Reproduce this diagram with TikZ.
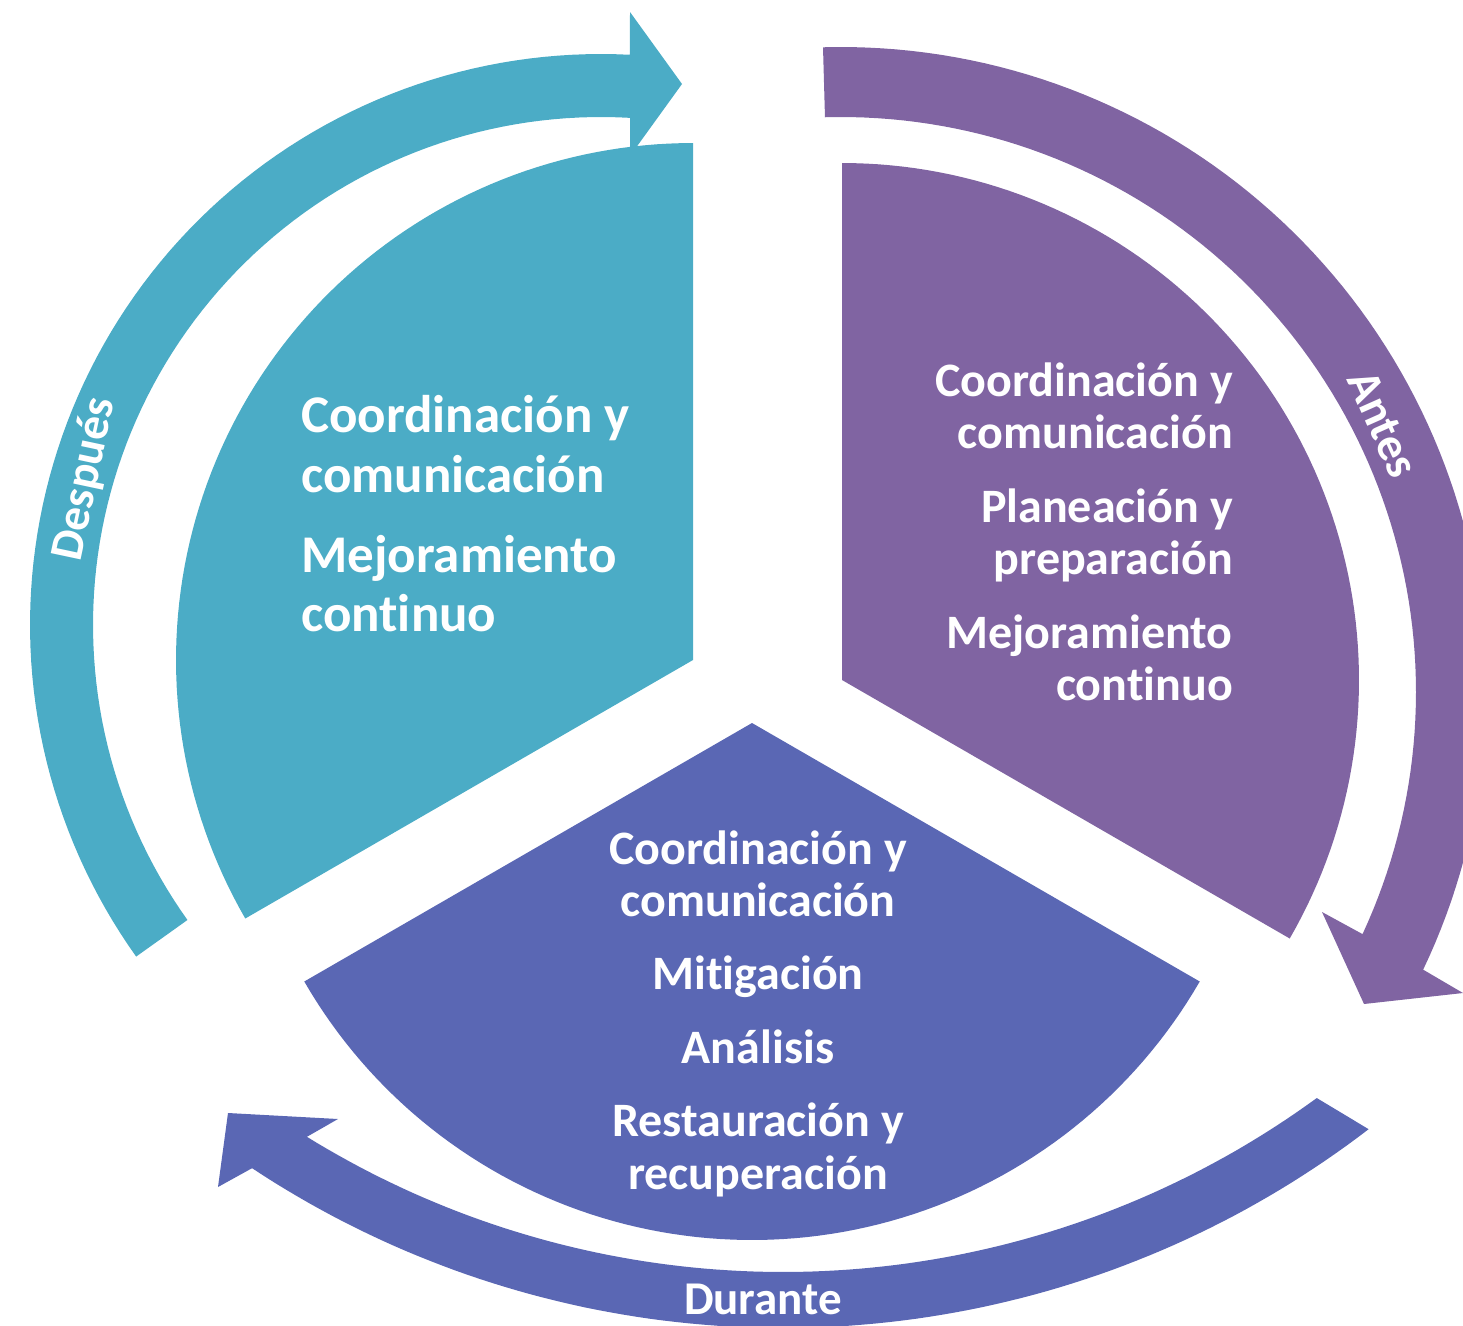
\documentclass[tikz,border=0pt]{standalone}
\usepackage{fontspec}
\setmainfont{Carlito}[Ligatures=NoCommon]
\definecolor{cteal}{HTML}{4BACC6}
\definecolor{cpurp}{HTML}{8064A2}
\definecolor{cblue}{HTML}{5A67B4}
\begin{document}
\begin{tikzpicture}[x=1pt,y=-1pt,
  lbl/.style={text=white,inner sep=0pt,font=\bfseries\fontsize{47}{52}\selectfont},
  bigtxt/.style={text=white,inner sep=0pt,font=\bfseries\fontsize{53}{60}\selectfont,anchor=base west},
  rtxt/.style={text=white,inner sep=0pt,font=\bfseries\fontsize{48}{52}\selectfont,anchor=base east},
  ctxt/.style={text=white,inner sep=0pt,font=\bfseries\fontsize{48}{52}\selectfont,anchor=base}]
\useasboundingbox (0,0) rectangle (1463,1325);
\clip (0,0) rectangle (1463,1325);

% ---- circular arrows ----
% Despues (teal)
\fill[cteal] plot[domain=144.5:272.9,samples=90] ({601+571*cos(\x)},{625+571*sin(\x)})
  -- (630,12) -- (682,84) -- (630,156) -- (630,118)
  -- plot[domain=273.3:144.5,samples=90] ({601+508*cos(\x)},{625+508*sin(\x)}) -- cycle;
% Antes (purple)
\fill[cpurp] plot[domain=-91.6:25.5,samples=90] ({841+645*cos(\x)},{692+645*sin(\x)})
  -- (1463,993) -- (1364,1004) -- (1322,912)
  -- plot[domain=24.9:-91.6,samples=90] ({841+575*cos(\x)},{692+575*sin(\x)}) -- cycle;
% Durante (blue)
\fill[cblue] plot[domain=52.5:123.5,samples=90] ({783+962*cos(\x)},{366+962*sin(\x)})
  -- (218,1187) -- (228,1113) -- (338,1119)
  -- plot[domain=121.7:53.9,samples=90] ({783+906*cos(\x)},{366+906*sin(\x)}) -- cycle;

% ---- sectors ----
\fill[cteal] (693,660) -- plot[domain=150:270,samples=90] ({693+517*cos(\x)},{660+517*sin(\x)}) -- cycle;
\fill[cpurp] (842,680) -- plot[domain=-90:30,samples=90] ({842+517*cos(\x)},{680+517*sin(\x)}) -- cycle;
\fill[cblue] (752,723) -- plot[domain=30:150,samples=90] ({752+517*cos(\x)},{723+517*sin(\x)}) -- cycle;

% ---- sector texts ----
\node[bigtxt] (t1) at (301,432) {Coordinación y};
\node[bigtxt] (t2) at (301,492) {comunicación};
\node[bigtxt] (t3) at (301,572) {Mejoramiento};
\node[bigtxt] (t4) at (301,631) {continuo};

\node[rtxt] (p1) at (1233,396) {Coordinación y};
\node[rtxt] (p2) at (1233,448) {comunicación};
\node[rtxt] (p3) at (1233,522) {Planeación y};
\node[rtxt] (p4) at (1233,574) {preparación};
\node[rtxt] (p5) at (1233,648) {Mejoramiento};
\node[rtxt] (p6) at (1233,700) {continuo};

\node[ctxt] (b1) at (758,864) {Coordinación y};
\node[ctxt] (b2) at (758,916) {comunicación};
\node[ctxt] (b3) at (758,989) {Mitigación};
\node[ctxt] (b4) at (758,1063) {Análisis};
\node[ctxt] (b5) at (758,1136) {Restauración y};
\node[ctxt] (b6) at (758,1189) {recuperación};

% ---- arrow labels ----
\node[lbl,rotate=78] (despues) at (85,479) {Después};
\node[lbl,rotate=-66] (antes) at (1383,424) {Antes};
\node[lbl,anchor=base] (durante) at (763,1314) {Durante};
\end{tikzpicture}
\end{document}
